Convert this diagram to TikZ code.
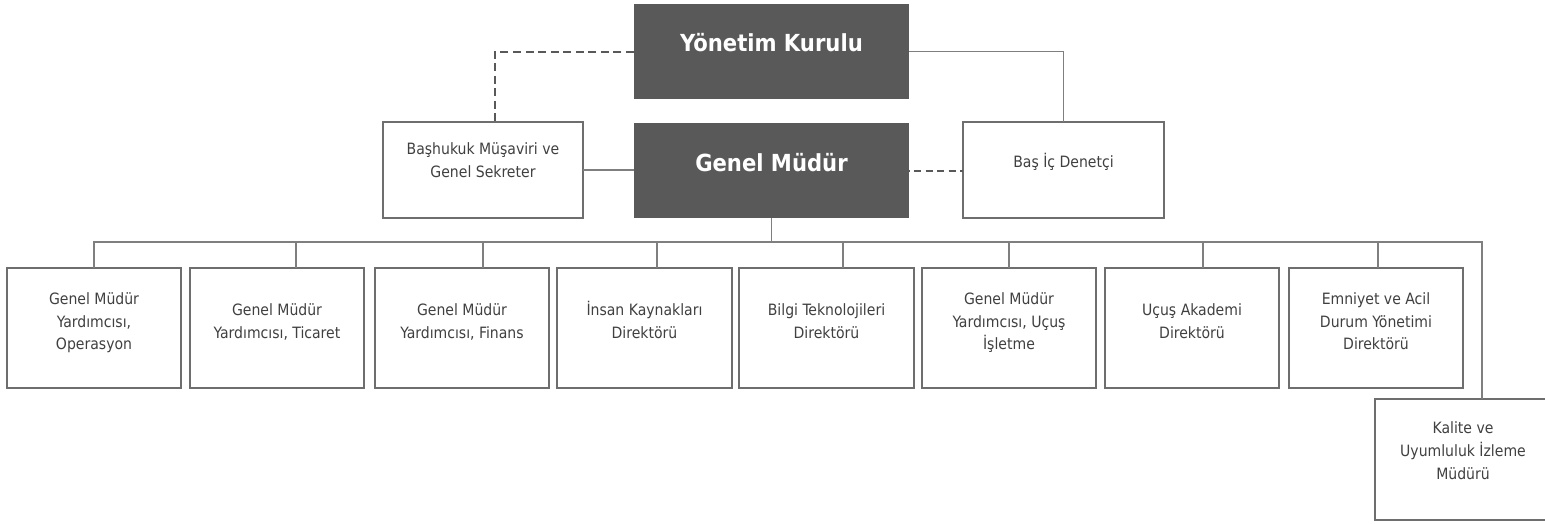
\documentclass[tikz,border=0pt]{standalone}
\usepackage{fontspec}
\setmainfont{DejaVu Sans Condensed}[BoldFont={DejaVu Sans Condensed Bold}]
\definecolor{darkbox}{HTML}{595959}
\definecolor{bordergray}{HTML}{6E6E6E}
\definecolor{linegray}{HTML}{7F7F7F}
\definecolor{txtgray}{HTML}{404040}
\newcommand{\topstr}{\rule{0pt}{16pt}}
\newcommand{\botstr}{\rule[-5pt]{0pt}{5pt}}
\tikzset{
 topbox/.style={fill=darkbox, draw=none, inner sep=0pt, outer sep=0pt, minimum width=275pt, minimum height=95pt},
 toptext/.style={text=white, font=\fontsize{23.5}{28}\selectfont\bfseries, inner sep=0pt, anchor=base},
 orgbox/.style={draw=bordergray, line width=1.4pt, fill=white, inner sep=0pt, outer sep=0pt, minimum width=174pt, minimum height=120pt},
 orgtext/.style={text=txtgray, font=\fontsize{15.6}{22.7}\selectfont, align=center, inner sep=0pt},
 conn/.style={draw=linegray, line width=1.3pt},
 dconn/.style={draw=darkbox, line width=2pt, dash pattern=on 8pt off 4.56pt},
 dconnb/.style={draw=darkbox, line width=2pt, dash pattern=on 7pt off 4.5pt},
}
\begin{document}
\begin{tikzpicture}[x=1pt,y=-1pt]
\useasboundingbox (0,0) rectangle (1545,523);
\clip (0,0) rectangle (1545,523);
\fill[white] (0,0) rectangle (1545,523);
% top level
\node[topbox] (yk) at (771.5,51.5) {};
\node[toptext] (ykt) at (yk.center) {Yönetim Kurulu};
\node[topbox] (gm) at (771.5,170.5) {};
\node[toptext] (gmt) at ([yshift=-0.5pt]gm.center) {Genel Müdür};
\node[orgbox, minimum width=200pt, minimum height=96pt] (bh) at (483,170) {};
\node[orgtext] (bht) at ([yshift=9.5pt]bh.center) {\topstr Başhukuk Müşaviri ve\\Genel Sekreter\botstr};
\node[orgbox, minimum width=201pt, minimum height=96pt] (bd) at (1063.5,170) {};
\node[orgtext] (bdt) at ([yshift=8.5pt]bd.center) {\topstr Baş İç Denetçi\botstr};
% second row
\node[orgbox] (b1) at (94,328) {};
\node[orgtext] (b1t) at ([yshift=6.5pt]b1.center) {\topstr Genel Müdür\\Yardımcısı,\\Operasyon\botstr};
\node[orgbox] (b2) at (277,328) {};
\node[orgtext] (b2t) at ([yshift=6.5pt]b2.center) {\topstr Genel Müdür\\Yardımcısı, Ticaret\botstr};
\node[orgbox] (b3) at (462,328) {};
\node[orgtext] (b3t) at ([yshift=6.5pt]b3.center) {\topstr Genel Müdür\\Yardımcısı, Finans\botstr};
\node[orgbox, minimum width=175pt] (b4) at (644.5,328) {};
\node[orgtext] (b4t) at ([yshift=6.5pt]b4.center) {\topstr İnsan Kaynakları\\Direktörü\botstr};
\node[orgbox, minimum width=175pt] (b5) at (826.5,328) {};
\node[orgtext] (b5t) at ([yshift=6.5pt]b5.center) {\topstr Bilgi Teknolojileri\\Direktörü\botstr};
\node[orgbox] (b6) at (1009,328) {};
\node[orgtext] (b6t) at ([yshift=6.5pt]b6.center) {\topstr Genel Müdür\\Yardımcısı, Uçuş\\İşletme\botstr};
\node[orgbox] (b7) at (1192,328) {};
\node[orgtext] (b7t) at ([yshift=6.5pt]b7.center) {\topstr Uçuş Akademi\\Direktörü\botstr};
\node[orgbox] (b8) at (1376,328) {};
\node[orgtext] (b8t) at ([yshift=6.5pt]b8.center) {\topstr Emniyet ve Acil\\Durum Yönetimi\\Direktörü\botstr};
\node[orgbox, minimum width=176pt, minimum height=121pt] (kq) at (1463,459.5) {};
\node[orgtext] (kqt) at ([yshift=8.5pt]kq.center) {\topstr Kalite ve\\Uyumluluk İzleme\\Müdürü\botstr};
% connectors
\coordinate (busR) at (1482,242);
\draw[dconn] (yk.west) -| ([xshift=12pt]bh.north);
\draw[conn] (yk.east) -| (bd.north);
\draw[conn] (bh.east) -- (bh.east -| gm.west);
\draw[dconnb, dash phase=-5pt] (gm.east) -- (gm.east -| bd.west);
\draw[conn] (gm.south) -- (gm.south |- busR);
\draw[conn] (b1.north) |- (busR) -- ([xshift=19pt]kq.north);
\draw[conn] ([xshift=19pt]b2.north) -- ([xshift=19pt]b2.north |- busR);
\draw[conn] ([xshift=21pt]b3.north) -- ([xshift=21pt]b3.north |- busR);
\draw[conn] ([xshift=12.5pt]b4.north) -- ([xshift=12.5pt]b4.north |- busR);
\draw[conn] ([xshift=16.5pt]b5.north) -- ([xshift=16.5pt]b5.north |- busR);
\draw[conn] (b6.north) -- (b6.north |- busR);
\draw[conn] ([xshift=11pt]b7.north) -- ([xshift=11pt]b7.north |- busR);
\draw[conn] ([xshift=2pt]b8.north) -- ([xshift=2pt]b8.north |- busR);
\end{tikzpicture}
\end{document}
